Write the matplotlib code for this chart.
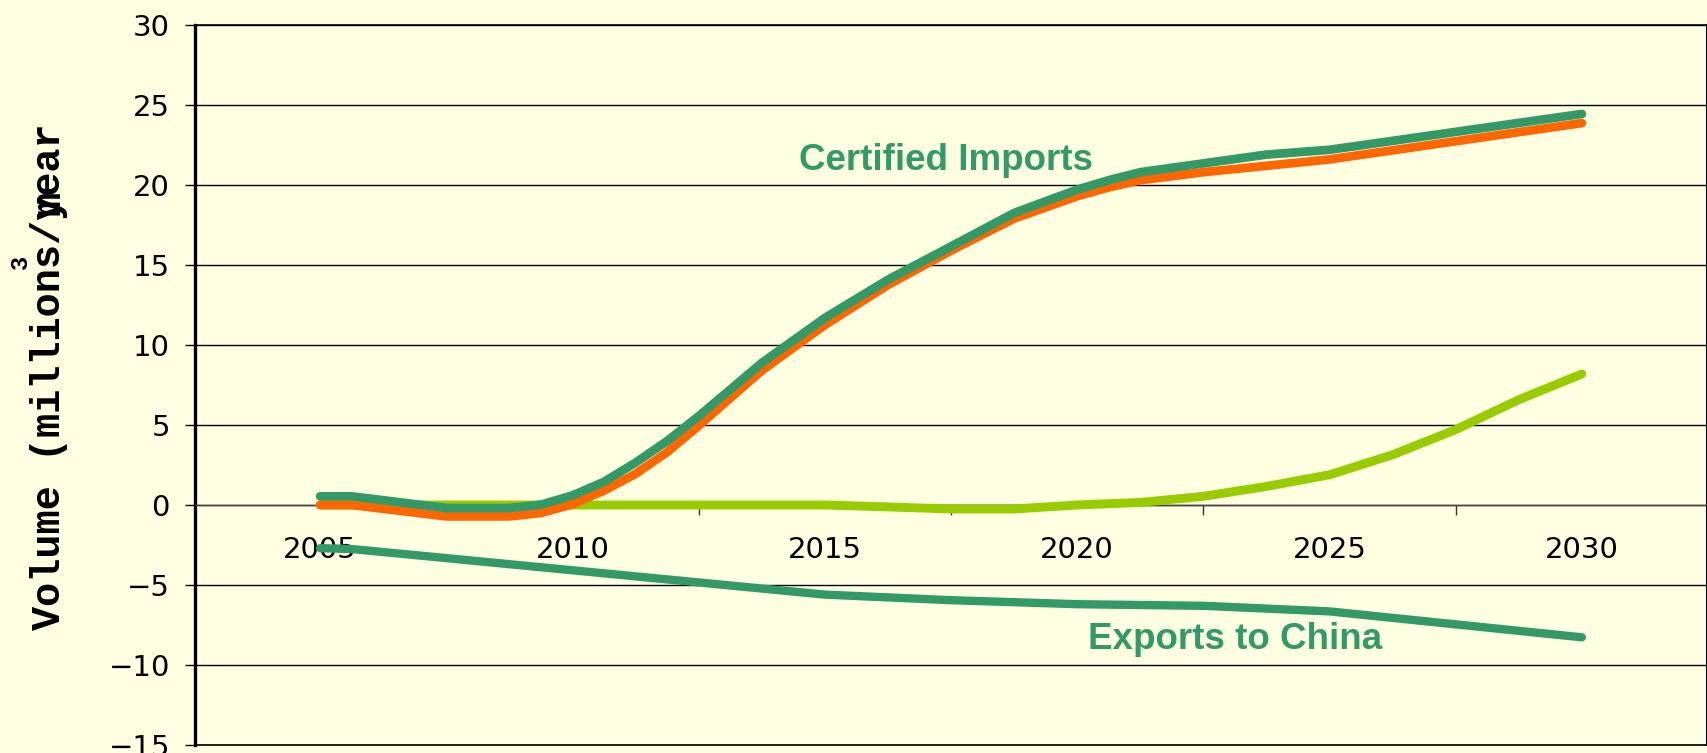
import matplotlib
matplotlib.use('Agg')
import matplotlib.pyplot as plt
from matplotlib.ticker import FixedLocator

# ---------------- data ----------------
imports_years = [2005, 2005.625, 2007.5, 2008.75, 2009.375, 2010, 2010.625, 2011.25,
                 2011.875, 2012.5, 2013.75, 2015, 2016.25, 2017.5, 2018.75, 2020,
                 2020.625, 2021.25, 2022.5, 2023.75, 2025, 2030]
certified_imports = [0.54, 0.54, -0.19, -0.19, 0.02, 0.6, 1.45, 2.65,
                     4.0, 5.55, 8.88, 11.69, 14.08, 16.16, 18.25, 19.71,
                     20.3, 20.8, 21.35, 21.9, 22.2, 24.44]
total_imports = [0.0, 0.0, -0.71, -0.71, -0.5, 0.05, 0.9, 1.95,
                 3.3, 4.95, 8.4, 11.25, 13.75, 15.9, 17.9, 19.3,
                 19.85, 20.3, 20.8, 21.2, 21.6, 23.87]

other_years = [2005, 2015, 2016.25, 2017.5, 2018.75, 2020, 2021.25, 2022.5,
               2023.75, 2025, 2026.25, 2027.5, 2028.75, 2030]
other_imports = [0.0, 0.0, -0.12, -0.25, -0.25, 0.0, 0.16, 0.54,
                 1.16, 1.89, 3.14, 4.71, 6.58, 8.19]

exports_years = [2005, 2005.625, 2015, 2017.5, 2020, 2022.5, 2025, 2030]
exports_china = [-2.7, -2.75, -5.6, -5.95, -6.2, -6.3, -6.65, -8.27]

x_label_years = [2005, 2010, 2015, 2020, 2025, 2030]
x_tick_marks = [2007.5, 2012.5, 2017.5, 2022.5, 2027.5]
y_ticks = [-15, -10, -5, 0, 5, 10, 15, 20, 25, 30]

# ---------------- style ----------------
BG = '#FFFFE1'
DKGREEN = '#339966'
ORANGE = '#FF6600'
LTGREEN = '#99CC00'

W, H = 1708, 753
fig = plt.figure(figsize=(W / 100, H / 100), dpi=100, facecolor=BG)
ax = fig.add_axes([195 / W, 8 / H, (1707 - 195) / W, (745 - 25) / H])
ax.set_facecolor(BG)

ax.set_xlim(2002.52, 2032.48)
ax.set_ylim(-15, 30)

common = dict(solid_capstyle='round', solid_joinstyle='round')
ax.plot(other_years, other_imports, color=LTGREEN, lw=6.4, zorder=3, **common)
ax.plot(exports_years, exports_china, color=DKGREEN, lw=6.0, zorder=3, **common)
ax.plot(imports_years, total_imports, color=ORANGE, lw=6.3, zorder=4, **common)
ax.plot(imports_years, certified_imports, color=DKGREEN, lw=6.3, zorder=5, **common)

# grid
ax.set_yticks(y_ticks)
ax.set_yticklabels([str(v).replace('-', '\u2212') for v in y_ticks])
ax.yaxis.grid(True, color='black', lw=1.0)
ax.set_axisbelow(True)
ax.axhline(30, color='black', lw=1.2, clip_on=False, zorder=1)
ax.axhline(-15, color='black', lw=1.2, clip_on=False, zorder=1)

# spines
ax.spines['top'].set_visible(False)
ax.spines['right'].set_color('black')
ax.spines['right'].set_linewidth(1.5)
ax.spines['left'].set_linewidth(2.4)
ax.spines['left'].set_color('black')
ax.spines['bottom'].set_position(('data', 0))
ax.spines['bottom'].set_color('#444444')
ax.spines['bottom'].set_linewidth(1.0)

# ticks
ax.set_xticks(x_label_years)
ax.set_xticklabels([str(v) for v in x_label_years])
ax.xaxis.set_minor_locator(FixedLocator(x_tick_marks))
ax.tick_params(axis='x', which='major', length=0, pad=22, labelsize=21,
               labelcolor='black')
ax.tick_params(axis='x', which='minor', length=7.2, width=1.0, direction='out',
               color='#333333')
ax.tick_params(axis='y', which='major', length=7.2, width=1.0, direction='out',
               pad=10.8, labelsize=21, labelcolor='black')
for lab in ax.get_xticklabels() + ax.get_yticklabels():
    lab.set_fontfamily('DejaVu Sans')

# annotations
ax.text(2017.41, 20.96, 'Certified Imports', color=DKGREEN, fontsize=26.5,
        fontweight='bold', family='Liberation Sans', ha='center', va='baseline',
        zorder=6)
ax.text(2023.13, -8.98, 'Exports to China', color=DKGREEN, fontsize=26.5,
        fontweight='bold', family='Liberation Sans', ha='center', va='baseline',
        zorder=6)

# y label (as rendered in the original, with the overlapping "m" and superscript 3)
lab_kw = dict(rotation=90, family='Liberation Mono', fontweight='bold',
              fontsize=29, color='black')
fig.text(49 / W, 1 - 630 / H, 'Volume (millions/year', ha='center', va='bottom',
         **lab_kw)
fig.text(49 / W, 1 - 203 / H, 'm', ha='center', va='center', **lab_kw)
fig.text(20 / W, 1 - 262 / H, '3', rotation=90, ha='center', va='center',
         family='Liberation Mono', fontweight='bold', fontsize=17, color='black')

fig.savefig('out.png', dpi=100, facecolor=BG)
